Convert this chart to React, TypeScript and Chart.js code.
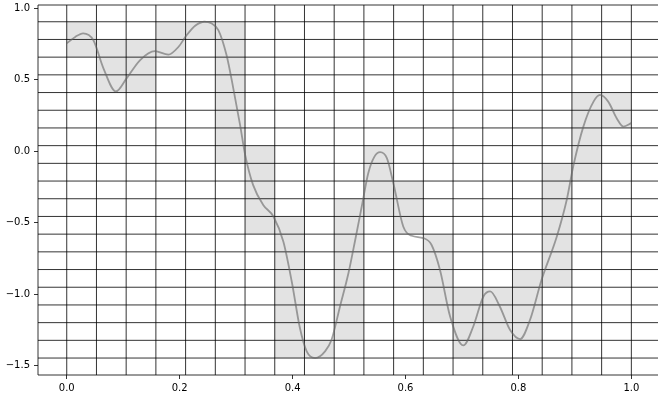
import React, { useEffect, useRef } from "react";
import { Chart, registerables } from "chart.js";

Chart.register(...registerables);

// Tick labels
const xTicks = [0, 0.2, 0.4, 0.6, 0.8, 1.0];
const yTicks = [-1.5, -1.0, -0.5, 0, 0.5, 1.0];

// Pixel grid: 19 columns over [0,1], 19 rows over [curve min, curve max]
const gridCols = 19;
const gridRows = 19;
const gridXMin = 0;
const gridXMax = 1;
const gridYMin = -1.448;
const gridYMax = 0.906;

// Shaded cells per column: from row line index cellLo to cellHi
const cellLo = [17, 15, 15, 17, 18, 11, 7, 0, 0, 1, 8, 7, 2, 0, 1, 1, 4, 10, 13];
const cellHi = [19, 18, 18, 19, 19, 19, 12, 8, 1, 9, 12, 10, 7, 4, 4, 5, 11, 15, 15];

// Smooth curve samples
const curveX = [
  0, 0.015, 0.029, 0.047, 0.065, 0.087, 0.106, 0.13, 0.156, 0.18, 0.198, 0.2125, 0.228, 0.244,
  0.256, 0.2685, 0.283, 0.295, 0.307, 0.316, 0.33, 0.348, 0.366, 0.3836, 0.3985, 0.413, 0.425,
  0.44, 0.4575, 0.469, 0.484, 0.499, 0.511, 0.5225, 0.534, 0.545, 0.555, 0.567, 0.5785, 0.596,
  0.611, 0.6316, 0.646, 0.661, 0.679, 0.7025, 0.72, 0.738, 0.75, 0.767, 0.785, 0.803, 0.8206,
  0.841, 0.868, 0.8856, 0.897, 0.915, 0.933, 0.9445, 0.959, 0.974, 0.986, 1.0,
];
const curveY = [
  0.755, 0.8, 0.825, 0.778, 0.58, 0.418, 0.51, 0.638, 0.7, 0.676, 0.731, 0.813, 0.88, 0.906,
  0.895, 0.848, 0.673, 0.44, 0.184, -0.026, -0.236, -0.376, -0.457, -0.632, -0.912, -1.238, -1.401,
  -1.448, -1.401, -1.32, -1.087, -0.853, -0.62, -0.387, -0.154, -0.038, -0.007, -0.049, -0.224, -0.527,
  -0.592, -0.608, -0.655, -0.83, -1.157, -1.36, -1.227, -1.017, -0.982, -1.087, -1.25, -1.315, -1.18,
  -0.9, -0.597, -0.34, -0.108, 0.172, 0.347, 0.394, 0.347, 0.231, 0.172, 0.196,
];

const fmt = (v: number) => (v < 0 ? "\u2212" : "") + Math.abs(v).toFixed(1);

const pixelGridPlugin = {
  id: "pixelGrid",
  beforeDatasetsDraw(chart: any) {
    const { ctx, chartArea } = chart;
    const xs = chart.scales.x;
    const ys = chart.scales.y;
    const xEdges: number[] = [];
    for (let i = 0; i <= gridCols; i++) xEdges.push(gridXMin + ((gridXMax - gridXMin) * i) / gridCols);
    const yEdges: number[] = [];
    for (let k = 0; k <= gridRows; k++) yEdges.push(gridYMin + ((gridYMax - gridYMin) * k) / gridRows);

    ctx.save();
    ctx.beginPath();
    ctx.rect(chartArea.left, chartArea.top, chartArea.right - chartArea.left, chartArea.bottom - chartArea.top);
    ctx.clip();

    ctx.fillStyle = "#e3e3e3";
    for (let j = 0; j < gridCols; j++) {
      const x0 = xs.getPixelForValue(xEdges[j]);
      const x1 = xs.getPixelForValue(xEdges[j + 1]);
      const y0 = ys.getPixelForValue(yEdges[cellHi[j]]);
      const y1 = ys.getPixelForValue(yEdges[cellLo[j]]);
      ctx.fillRect(x0, y0, x1 - x0, y1 - y0);
    }

    ctx.strokeStyle = "rgba(0,0,0,0.8)";
    ctx.lineWidth = 1;
    ctx.beginPath();
    for (const xv of xEdges) {
      const p = xs.getPixelForValue(xv);
      ctx.moveTo(p, chartArea.top);
      ctx.lineTo(p, chartArea.bottom);
    }
    for (const yv of yEdges) {
      const p = ys.getPixelForValue(yv);
      ctx.moveTo(chartArea.left, p);
      ctx.lineTo(chartArea.right, p);
    }
    ctx.stroke();
    ctx.restore();
  },
  afterDraw(chart: any) {
    const { ctx, chartArea } = chart;
    ctx.save();
    ctx.strokeStyle = "#000";
    ctx.lineWidth = 0.8;
    ctx.beginPath();
    ctx.moveTo(chartArea.right, chartArea.top);
    ctx.lineTo(chartArea.left, chartArea.top);
    ctx.lineTo(chartArea.left, chartArea.bottom);
    ctx.lineTo(chartArea.right, chartArea.bottom);
    ctx.stroke();
    ctx.restore();
  },
};

export default function App() {
  const ref = useRef<HTMLCanvasElement | null>(null);
  useEffect(() => {
    document.body.style.margin = "0";
    const canvas = ref.current;
    if (!canvas) return;
    const font = { family: "'DejaVu Sans', sans-serif", size: 10 };
    const chart = new Chart(canvas, {
      type: "scatter",
      data: {
        datasets: [
          {
            data: curveX.map((x, i) => ({ x, y: curveY[i] })),
            showLine: true,
            borderColor: "rgba(100,100,100,0.6)",
            borderWidth: 1.8,
            pointRadius: 0,
            cubicInterpolationMode: "monotone",
            fill: false,
          } as any,
        ],
      },
      options: {
        animation: false,
        responsive: false,
        events: [],
        layout: { padding: { top: 5, left: 0, right: 0, bottom: 0 } },
        plugins: { legend: { display: false }, tooltip: { enabled: false } },
        scales: {
          x: {
            type: "linear",
            min: -0.0509,
            max: 1.0472,
            afterBuildTicks: (s: any) => {
              s.ticks = xTicks.map((v) => ({ value: v }));
            },
            afterFit: (s: any) => {
              s.height = 20;
              s.paddingLeft = 0;
              s.paddingRight = 0;
            },
            grid: { display: true, drawOnChartArea: false, drawTicks: true, tickLength: 4, color: "#000", lineWidth: 0.8 },
            border: { display: false },
            ticks: { font, color: "#000", padding: 3, maxRotation: 0, autoSkip: false, callback: (v: any) => fmt(Number(v)) },
          },
          y: {
            type: "linear",
            min: -1.5667,
            max: 1.0233,
            afterBuildTicks: (s: any) => {
              s.ticks = yTicks.map((v) => ({ value: v }));
            },
            afterFit: (s: any) => {
              s.width = 38;
              s.paddingTop = 0;
              s.paddingBottom = 0;
            },
            grid: { display: true, drawOnChartArea: false, drawTicks: true, tickLength: 4, color: "#000", lineWidth: 0.8 },
            border: { display: false },
            ticks: { font, color: "#000", padding: 4, autoSkip: false, callback: (v: any) => fmt(Number(v)) },
          },
        },
      },
      plugins: [pixelGridPlugin],
    });
    return () => chart.destroy();
  }, []);
  return (
    <div style={{ width: 658, height: 395 }}>
      <canvas ref={ref} width={658} height={395} style={{ display: "block" }} />
    </div>
  );
}
